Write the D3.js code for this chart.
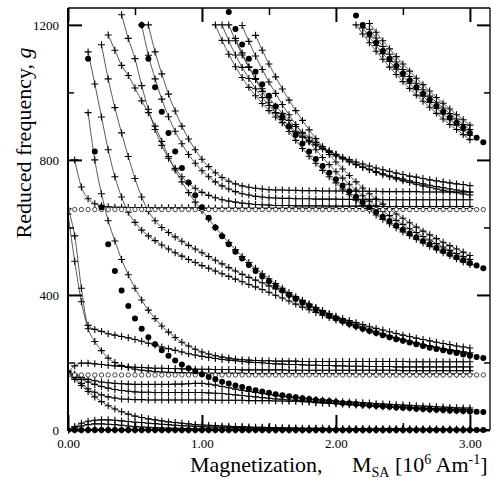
<!DOCTYPE html>
<html><head><meta charset="utf-8">
<script src="https://cdn.jsdelivr.net/npm/d3@7"></script>
<style>
html,body{margin:0;padding:0;background:#fff;}
svg{display:block;}
</style></head><body>
<svg id="chart" width="494" height="484"></svg>
<script>
// Magnetization grid, 10^6 A/m
const M = [0.00,0.05,0.10,0.15,0.20,0.25,0.30,0.35,0.40,0.45,0.50,0.55,0.60,0.65,0.70,0.75,0.80,0.85,0.90,0.95,
  1.00,1.05,1.10,1.15,1.20,1.25,1.30,1.35,1.40,1.45,1.50,1.55,1.60,1.65,1.70,1.75,1.80,1.85,1.90,1.95,
  2.00,2.05,2.10,2.15,2.20,2.25,2.30,2.35,2.40,2.45,2.50,2.55,2.60,2.65,2.70,2.75,2.80,2.85,2.90,2.95,
  3.00,3.05,3.10];

const xTicksMajor = [0, 1, 2, 3];
const xTicksMinor = [0.5, 1.5, 2.5];
const yTicksMajor = [0, 400, 800, 1200];
const yTicksMinor = [200, 600, 1000];

// Asymptotic branches (filled dots)
const dotsN0 = {from:0.00, g:[0,0,0,0,0,0,0,0,0,0,0,0,0,0,0,0,0,0,0,0,0,0,0,0,0,0,0,0,0,0,0,0,0,0,0,0,0,0,0,0,0,0,0,0,0,0,0,0,0,0,0,0,0,0,0,0,0,0,0,0,0,0,0]};
const dotsN1 = {from:0.15, g:[1100,825,660,550,471,413,367,330,300,275,254,236,220,206,194,183,174,165,157,150,143,138,132,127,122,118,114,110,106,103,100,97,94,92,89,87,85,83,80,79,77,75,73,72,70,69,67,66,65,63,62,61,60,59,58,57,56,55,54,53]};
const dotsN2 = {from:0.55, g:[1200,1100,1015,943,880,825,776,733,695,660,629,600,574,550,528,508,489,471,455,440,426,413,400,388,377,367,357,347,338,330,322,314,307,300,293,287,281,275,269,264,259,254,249,244,240,236,232,228,224,220,216,213]};
const dotsN3 = {from:1.20, g:[1238,1188,1142,1100,1061,1024,990,958,928,900,874,849,825,803,782,762,743,724,707,691,675,660,646,632,619,606,594,582,571,560,550,540,530,521,512,503,495,487,479]};
const dotsN4 = {from:2.15, g:[1228,1200,1173,1148,1123,1100,1078,1056,1035,1015,996,978,960,943,926,910,895,880,866,852]};

// Flat branches (open circles)
const ringsHigh = {from:0.00, g:[653,653,653,653,653,653,653,653,653,653,653,653,653,653,653,653,653,653,653,653,653,653,653,653,653,653,653,653,653,653,653,653,653,653,653,653,653,653,653,653,653,653,653,653,653,653,653,653,653,653,653,653,653,653,653,653,653,653,653,653,653,653,653]};
const ringsLow = {from:0.00, g:[163,163,163,163,163,163,163,163,163,163,163,163,163,163,163,163,163,163,163,163,163,163,163,163,163,163,163,163,163,163,163,163,163,163,163,163,163,163,163,163,163,163,163,163,163,163,163,163,163,163,163,163,163,163,163,163,163,163,163,163,163,163,163]};

// Computed modes (crosses joined by lines)
const modeA1 = {from:2.15, g:[1200,1173,1147,1122,1098,1075,1053,1032,1012,992,974,956,938,921,905,890,875,860]};
const modeA2 = {from:2.20, g:[1191,1164,1139,1115,1092,1069,1048,1027,1008,989,970,953,936,919,903,888,873]};
const modeA3 = {from:2.25, g:[1187,1161,1136,1113,1090,1068,1047,1027,1008,989,971,954,937,921,905,890]};
const modeA4 = {from:2.25, g:[1204,1178,1153,1129,1106,1084,1063,1042,1023,1004,985,968,951,934,919,903]};

const modeBf1 = {from:1.10, g:[1200,1154,1113,1076,1044,1015,990,967,946,927,910,895,880,867,856,845,834,825,817,808,801,794,788,782,776,771,766,761,757,752,749,745,741,738,735,732,729,727,724]};
const modeBf2 = {from:1.15, g:[1200,1153,1111,1074,1041,1011,985,961,939,920,902,885,870,857,844,832,822,812,803,794,786,778,772,765,759,753,748,743,738,733,729,725,721,718,714,711,708,705]};
const modeBf3 = {from:1.20, g:[1200,1153,1111,1074,1041,1011,984,960,938,917,899,882,867,852,839,827,816,806,796,787,779,771,763,756,750,744,738,733,728,723,719,714,710,706,703,699,696]};

const modeBh1 = {from:1.30, g:[1198,1151,1108,1068,1031,997,964,934,905,879,853,830,807,786,765,746,728,711,694,678,663,648,635,621,609,596,585,573,563,552,542,532,523,514,505]};
const modeBh2 = {from:1.25, g:[1160,1117,1076,1038,1003,971,940,911,884,858,834,811,790,769,750,732,714,697,681,666,651,637,624,611,599,587,576,565,554,544,534,525,516,507,498,490]};
const modeBh3 = {from:1.40, g:[1169,1125,1084,1046,1010,977,946,917,889,863,839,816,794,773,754,735,717,700,684,669,654,640,627,614,601,589,578,567,556,546,536,527,517]};

const modeL0 = {from:0.05, g:[800,720,685,670,664,661,660,660,659,659,659,659,658,658,658,658,658,658,658,658,657,657,657,657,657,657,657,657,657,657,657,657,657,657,657,657,657,657,657,657,656,656,656,656,656,656,656,656,656,656,656,656,656,656,656,656,656,656,656,656]};
const modeL1 = {from:0.60, g:[1200,1120,1055,995,945,900,862,830,802,780,762,748,737,729,723,719,716,714,712,711,711,710,710,709,709,709,708,708,708,708,707,707,707,707,707,706,706,706,706,706,706,705,705,705,705,705,705,705,705]};
const modeL2 = {from:0.55, g:[1200,1110,1040,980,928,885,848,816,790,768,750,735,723,714,706,700,696,692,690,688,687,686,686,685,685,685,684,684,684,684,683,683,683,683,683,683,682,682,682,682,682,682,682,682,682,682,682,682,682,682]};
const modeL3 = {from:0.40, g:[1230,1160,1100,1020,950,890,843,805,775,750,731,716,704,695,688,682,678,675,672,670,668,667,666,665,665,665,664,664,664,664,664,663,663,663,663,663,663,663,663,662,662,662,662,662,662,662,662,662,662,662,662,662,662]};

const modeAlpha = {from:0.15, g:[1120,1025,927,830,750,690,645,615,592,575,561,548,536,525,515,505,496,487,479,471,463,455,447,439,431,424,416,408,399,391,382,373,364,356,348,340,333,326,319,312,305,299,293,287,282,276,271,266,262,257,253,249,245,241,238,235,232,229]};
const modeBeta = {from:0.25, g:[1141,1040,955,880,810,745,690,648,620,600,585,572,559,547,536,525,514,503,492,481,471,461,452,444,436,427,418,409,399,390,380,371,362,354,345,337,330,324,318,312,306,301,296,291,286,281,277,272,268,264,260,256,253,249,246,243]};
const modeGamma = {from:0.30, g:[1170,1125,1080,1050,1013,975,940,900,855,810,770,735,703,675,650,625,600,577,555,534,514,496,479,463,448,434,420,407,395,384,373,362,352,342,333,325,318,311,304,297,291,285,279,273,268,263,258,253,249,244,240,236,232,228,224]};

const modeC1 = {from:0.00, g:[172,190,198,198,196,194,192,190,188,187,186,185,184,183,183,182,182,181,181,180,180,180,179,179,179,179,178,178,178,178,178,178,178,177,177,177,177,177,177,177,177,177,177,177,177,177,177,177,177,177,176,176,176,176,176,176,176,176,176,176,176]};
const modeC2 = {from:0.00, g:[655,575,420,310,298,292,285,281,277,273,268,263,257,252,246,241,236,231,226,222,218,215,212,209,207,205,203,201,200,199,197,196,195,194,194,193,192,192,191,191,190,190,189,189,189,188,188,188,188,187,187,187,187,187,187,187,187,187,187,187,187]};
const modeC3 = {from:0.00, g:[640,500,380,300,262,235,213,200,191,185,180,177,175,173,172,171,170,170,169,169,169,168,168,168,168,168,168,167,167,167,167,167,167,167,167,167,167,167,167,167,167,167,167,166,166,166,166,166,166,166,166,166,166,166,166,166,166,166,166,166,166]};
const modeC4 = {from:0.15, g:[940,800,700,620,560,505,460,420,385,355,330,308,290,274,260,249,239,231,225,220,216,213,210,208,207,206,205,205,204,204,204,204,203,203,203,203,203,203,203,203,203,203,203,203,203,203,203,203,202,202,202,202,202,202,202,202,202,202]};

const modeD1 = {from:0.00, g:[172,155,138,122,112,104,98,95,92,91,90,90,89,89,89,89,89,89,89,89,89,89,88,88,88,88,88,87,87,87,87,86,86,85,85,84,83,81,80,79,78,77,75,74,73,72,70,69,68,67,66,65,63,62,61,60,59,58,57,56,55]};
const modeD2 = {from:0.00, g:[165,160,150,142,135,129,124,120,117,115,113,112,112,111,111,111,111,111,111,111,111,110,109,108,106,104,102,100,98,96,94,92,91,89,88,86,85,83,82,80,79,78,77,76,74,73,72,71,70,69,68,67,66,65,64,63,63,62,61,61,60]};
const modeD3 = {from:0.00, g:[175,165,156,150,146,142,140,138,137,136,135,135,135,135,135,135,136,136,137,138,138,136,133,129,125,121,117,114,111,108,105,102,100,98,96,94,92,90,89,87,86,84,83,82,81,80,78,77,76,75,74,73,72,71,70,69,68,67,66,65,65]};
const modeDdown = {from:0.00, g:[165,150,132,114,98,84,72,62,54,47,41,37,33,30,27,24,22,20,18,16,15,14,13,12,11,10,10,9,8,8,7,7,6,6,6,5,5,5,5,4,4,4,4,4,4,4,3,3,3,3,3,3,3,3,3,3,2,2,2,2,2]};

const modeZ1 = {from:0.00, g:[0,10,20,26,29,30,30,29,27,25,23,22,20,19,17,16,14,13,12,11,10,9,9,8,8,7,7,6,6,6,5,5,5,5,4,4,4,4,4,4,3,3,3,3,3,3,3,3,3,3,3,3,2,2,2,2,2,2,2,2,2]};
const modeZ2 = {from:0.00, g:[0,6,12,16,18,18,17,16,14,12,10,9,8,7,6,5,5,4,4,3,3,3,2,2,2,2,2,2,2,2,1,1,1,1,1,1,1,1,1,1,1,1,1,1,1,1,1,1,1,1,1,1,1,1,1,1,1,1,1,1,1]};
const modeZ3 = {from:0.00, g:[0,0,0,0,0,0,0,0,0,0,0,0,0,0,0,0,0,0,0,0,0,0,0,0,0,0,0,0,0,0,0,0,0,0,0,0,0,0,0,0,0,0,0,0,0,0,0,0,0,0,0,0,0,0,0,0,0,0,0,0,0]};

const crossModes = [modeA1, modeA2, modeA3, modeA4, modeBf1, modeBf2, modeBf3, modeBh1, modeBh2, modeBh3,
  modeL0, modeL1, modeL2, modeL3, modeAlpha, modeBeta, modeGamma, modeC1, modeC2, modeC3, modeC4,
  modeD1, modeD2, modeD3, modeDdown, modeZ1, modeZ2, modeZ3];
const dotBranches = [dotsN0, dotsN1, dotsN2, dotsN3, dotsN4];
const ringBranches = [ringsHigh, ringsLow];

// ---------- drawing ----------
const FONT = 'Liberation Serif';
const svg = d3.select('#chart');
const padL = 68, padR = 490, padT = 8, padB = 430;
const x = d3.scaleLinear().domain([0, 3.15]).range([padL, padR]);
const y = d3.scaleLinear().domain([0, 1250]).range([padB, padT]);

function points(series) {
  const i0 = M.findIndex(v => Math.abs(v - series.from) < 1e-6);
  return series.g.map((g, i) => [M[i0 + i], g]).filter(p => p[0] !== undefined);
}

svg.append('defs').append('clipPath').attr('id', 'plotClip')
  .append('rect').attr('x', padL).attr('y', padT).attr('width', padR - padL).attr('height', padB - padT + 4);

const plot = svg.append('g').attr('clip-path', 'url(#plotClip)');
const line = d3.line().x(d => x(d[0])).y(d => y(d[1])).curve(d3.curveMonotoneX);

crossModes.forEach(s => {
  plot.append('path').datum(points(s)).attr('d', line)
    .attr('fill', 'none').attr('stroke', '#222').attr('stroke-width', 0.75);
});
crossModes.forEach(s => {
  plot.append('g').selectAll('path').data(points(s)).join('path')
    .attr('transform', d => `translate(${x(d[0])},${y(d[1])})`)
    .attr('d', 'M-3.5,0H3.5M0,-3.5V3.5')
    .attr('stroke', '#000').attr('stroke-width', 1.1).attr('fill', 'none');
});
ringBranches.forEach(s => {
  plot.append('g').selectAll('circle').data(points(s)).join('circle')
    .attr('cx', d => x(d[0])).attr('cy', d => y(d[1])).attr('r', 2.2)
    .attr('fill', '#fff').attr('stroke', '#000').attr('stroke-width', 0.7);
});
dotBranches.forEach(s => {
  plot.append('g').selectAll('circle').data(points(s)).join('circle')
    .attr('cx', d => x(d[0])).attr('cy', d => y(d[1])).attr('r', 3)
    .attr('fill', '#000');
});

// ---------- axes (inward ticks on all four sides) ----------
function styleAxis(g, w) {
  g.attr('font-family', FONT).attr('font-size', 13);
  g.select('.domain').remove();
  g.selectAll('.tick line').attr('stroke', '#000').attr('stroke-width', w);
  g.selectAll('.tick text').attr('fill', '#000').attr('font-size', 13).attr('font-family', FONT);
}
svg.append('g').attr('transform', `translate(0,${padB})`)
  .call(d3.axisBottom(x).tickValues(xTicksMajor).tickSize(-15).tickSizeOuter(0).tickPadding(9).tickFormat(d3.format('.2f')))
  .call(g => styleAxis(g, 2));
svg.append('g').attr('transform', `translate(0,${padB})`)
  .call(d3.axisBottom(x).tickValues(xTicksMinor).tickSize(-7).tickSizeOuter(0).tickFormat(''))
  .call(g => styleAxis(g, 1.5));
svg.append('g').attr('transform', `translate(0,${padT})`)
  .call(d3.axisTop(x).tickValues(xTicksMajor).tickSize(-14).tickSizeOuter(0).tickFormat(''))
  .call(g => styleAxis(g, 2));
svg.append('g').attr('transform', `translate(0,${padT})`)
  .call(d3.axisTop(x).tickValues(xTicksMinor).tickSize(-7).tickSizeOuter(0).tickFormat(''))
  .call(g => styleAxis(g, 1.5));
svg.append('g').attr('transform', `translate(${padL},0)`)
  .call(d3.axisLeft(y).tickValues(yTicksMajor).tickSize(-14).tickSizeOuter(0).tickPadding(9).tickFormat(d3.format('d')))
  .call(g => styleAxis(g, 2));
svg.append('g').attr('transform', `translate(${padL},0)`)
  .call(d3.axisLeft(y).tickValues(yTicksMinor).tickSize(-6).tickSizeOuter(0).tickFormat(''))
  .call(g => styleAxis(g, 1.5));
svg.append('g').attr('transform', `translate(${padR},0)`)
  .call(d3.axisRight(y).tickValues(yTicksMajor).tickSize(-13).tickSizeOuter(0).tickFormat(''))
  .call(g => styleAxis(g, 2));
svg.append('g').attr('transform', `translate(${padR},0)`)
  .call(d3.axisRight(y).tickValues(yTicksMinor).tickSize(-6).tickSizeOuter(0).tickFormat(''))
  .call(g => styleAxis(g, 1.5));

// frame
svg.append('line').attr('x1', padL).attr('x2', padR).attr('y1', padT).attr('y2', padT).attr('stroke', '#000').attr('stroke-width', 1.3);
svg.append('line').attr('x1', padR).attr('x2', padR).attr('y1', padT).attr('y2', padB).attr('stroke', '#000').attr('stroke-width', 1.3);
svg.append('line').attr('x1', padL).attr('x2', padL).attr('y1', padT).attr('y2', padB + 1).attr('stroke', '#000').attr('stroke-width', 2);
svg.append('line').attr('x1', padL - 1).attr('x2', padR).attr('y1', padB).attr('y2', padB).attr('stroke', '#000').attr('stroke-width', 2);

// axis titles
const yTitle = svg.append('text').attr('transform', 'translate(31,143) rotate(-90)')
  .attr('text-anchor', 'middle').attr('font-size', 22).attr('font-family', FONT).attr('fill', '#000');
yTitle.append('tspan').text('Reduced frequency, ');
yTitle.append('tspan').attr('font-style', 'italic').text('g');

const xTitle = svg.append('text').attr('y', 472).attr('font-size', 22).attr('font-family', FONT).attr('fill', '#000')
  .style('white-space', 'pre');
xTitle.append('tspan').attr('x', 190).text('Magnetization,');
xTitle.append('tspan').attr('x', 352).text('M');
xTitle.append('tspan').attr('font-size', 14).attr('dy', 5).text('SA');
xTitle.append('tspan').attr('dy', -5).text(' [10');
xTitle.append('tspan').attr('font-size', 14).attr('dy', -8).text('6');
xTitle.append('tspan').attr('dy', 8).text(' Am');
xTitle.append('tspan').attr('font-size', 14).attr('dy', -8).text('-1');
xTitle.append('tspan').attr('dy', 8).text(']');
</script></body></html>
